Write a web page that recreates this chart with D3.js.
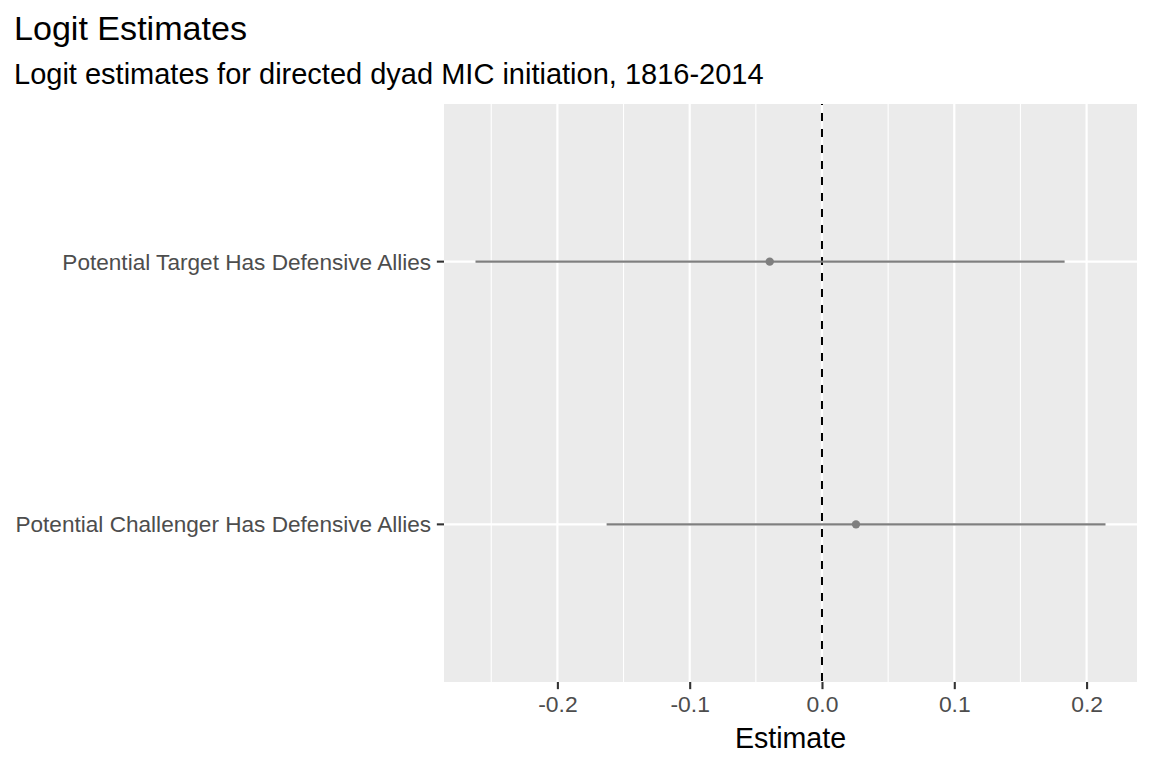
<!DOCTYPE html>
<html>
<head>
<meta charset="utf-8">
<script src="https://cdn.jsdelivr.net/npm/d3@7"></script>
<style>
  body { margin: 0; background: #fff; }
  svg { display: block; font-family: "Liberation Sans", Arial, sans-serif; }
</style>
</head>
<body>
<div class="outer-container"></div>
<script>
// terms, bottom to top as drawn
const terms = ['Potential Challenger Has Defensive Allies', 'Potential Target Has Defensive Allies']
const estimates = [0.0257, -0.0395]
const lower = [-0.1628, -0.2619]
const upper = [0.2143, 0.1834]
const xTicks = [-0.2, -0.1, 0.0, 0.1, 0.2]
const xMinor = [-0.25, -0.15, -0.05, 0.05, 0.15]

const w = 1152
const h = 768
const panelLeft = 444
const panelRight = 1137
const panelTop = 104
const panelBottom = 682
const tickLen = 7.15

const svg = d3.select('.outer-container')
              .append('svg')
              .attr('width', w)
              .attr('height', h)

// ggplot style: 5% expansion on continuous, 0.6 units on discrete
const lo = d3.min(lower.concat([0]))
const hi = d3.max(upper.concat([0]))
const pad = (hi - lo) * 0.05
const xScale = d3.scaleLinear()
                 .domain([lo - pad, hi + pad])
                 .range([panelLeft, panelRight])

const yScale = d3.scaleLinear()
                 .domain([0.4, terms.length + 0.6])
                 .range([panelBottom, panelTop])
const yPos = i => yScale(i + 1)

svg.append('rect')
   .attr('x', panelLeft)
   .attr('y', panelTop)
   .attr('width', panelRight - panelLeft)
   .attr('height', panelBottom - panelTop)
   .attr('fill', '#EBEBEB')

const grid = svg.append('g')
grid.selectAll('.minor')
    .data(xMinor)
    .enter()
    .append('line')
    .attr('x1', d => xScale(d))
    .attr('x2', d => xScale(d))
    .attr('y1', panelTop)
    .attr('y2', panelBottom)
    .attr('stroke', '#fff')
    .attr('stroke-width', 1.1)
grid.selectAll('.major')
    .data(xTicks)
    .enter()
    .append('line')
    .attr('x1', d => xScale(d))
    .attr('x2', d => xScale(d))
    .attr('y1', panelTop)
    .attr('y2', panelBottom)
    .attr('stroke', '#fff')
    .attr('stroke-width', 2.2)
grid.selectAll('.ymajor')
    .data(terms)
    .enter()
    .append('line')
    .attr('x1', panelLeft)
    .attr('x2', panelRight)
    .attr('y1', (d, i) => yPos(i))
    .attr('y2', (d, i) => yPos(i))
    .attr('stroke', '#fff')
    .attr('stroke-width', 2.2)

// zero reference
svg.append('line')
   .attr('x1', xScale(0))
   .attr('x2', xScale(0))
   .attr('y1', panelTop)
   .attr('y2', panelBottom)
   .attr('stroke', '#000')
   .attr('stroke-width', 2)
   .attr('stroke-dasharray', '8,8')
   .attr('stroke-dashoffset', 7)

// intervals
svg.selectAll('.ci')
   .data(terms)
   .enter()
   .append('line')
   .attr('x1', (d, i) => xScale(lower[i]))
   .attr('x2', (d, i) => xScale(upper[i]))
   .attr('y1', (d, i) => yPos(i))
   .attr('y2', (d, i) => yPos(i))
   .attr('stroke', '#7F7F7F')
   .attr('stroke-width', 2.1)

svg.selectAll('.pt')
   .data(terms)
   .enter()
   .append('circle')
   .attr('cx', (d, i) => xScale(estimates[i]))
   .attr('cy', (d, i) => yPos(i))
   .attr('r', 4.2)
   .attr('fill', '#7F7F7F')

// axes
const xAxis = d3.axisBottom(xScale)
                .tickValues(xTicks)
                .tickSize(tickLen)
                .tickPadding(7)
                .tickFormat(d => d3.format('.1f')(d).replace('−', '-'))
const gx = svg.append('g')
              .attr('transform', 'translate(0, ' + panelBottom + ')')
              .call(xAxis)
gx.select('.domain').remove()
gx.selectAll('line').attr('stroke', '#333').attr('stroke-width', 2.1)
gx.selectAll('text')
  .attr('fill', '#4D4D4D')
  .style('font-size', '22.9px')

const gy = svg.append('g')
              .attr('transform', 'translate(' + panelLeft + ', 0)')
terms.forEach((t, i) => {
  gy.append('line')
    .attr('x1', -tickLen)
    .attr('x2', 0)
    .attr('y1', yPos(i))
    .attr('y2', yPos(i))
    .attr('stroke', '#333')
    .attr('stroke-width', 2.1)
  gy.append('text')
    .attr('x', -tickLen - 5.7)
    .attr('y', yPos(i))
    .attr('dy', '0.35em')
    .attr('text-anchor', 'end')
    .attr('fill', '#4D4D4D')
    .style('font-size', '22.6px')
    .text(t)
})

svg.append('text')
   .attr('x', (panelLeft + panelRight) / 2)
   .attr('y', 748)
   .attr('text-anchor', 'middle')
   .attr('fill', '#000')
   .style('font-size', '28.6px')
   .text('Estimate')

svg.append('text')
   .attr('x', 14)
   .attr('y', 40)
   .attr('fill', '#000')
   .style('font-size', '34.1px')
   .text('Logit Estimates')

svg.append('text')
   .attr('x', 14)
   .attr('y', 84)
   .attr('fill', '#000')
   .style('font-size', '29px')
   .text('Logit estimates for directed dyad MIC initiation, 1816-2014')
</script>
</body>
</html>
